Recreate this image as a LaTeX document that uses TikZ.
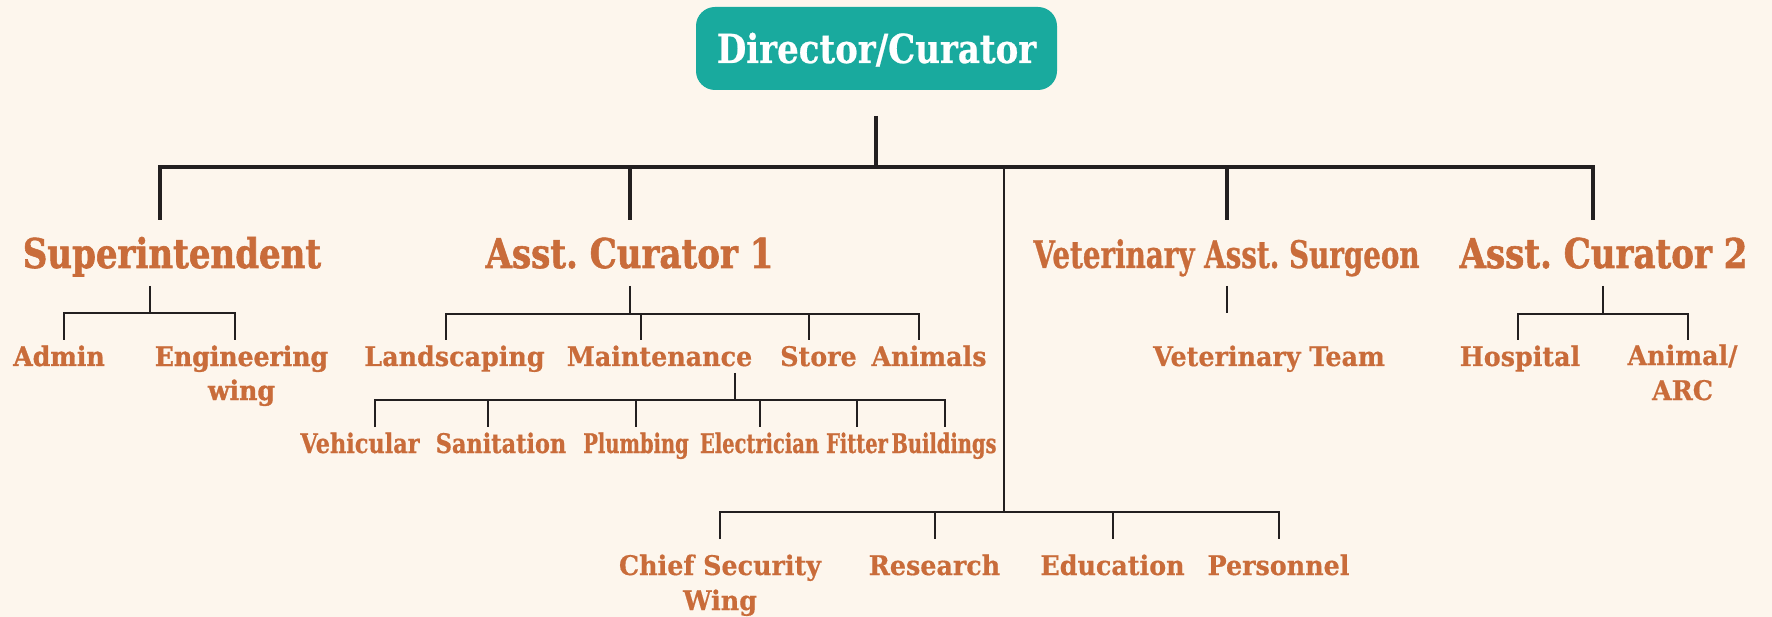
\documentclass[tikz,border=0pt]{standalone}
\usepackage{fontspec}
\setmainfont{DejaVu Serif}
\newfontfamily\wideLfont[FakeStretch=0.83,FakeBold=1.4]{DejaVu Serif}
\newfontfamily\wideSfont[FakeStretch=0.93,FakeBold=1.2]{DejaVu Serif}
\newfontfamily\condAfont[FakeStretch=0.94,FakeBold=0.5]{DejaVu Serif}
\newfontfamily\condBfont[FakeStretch=0.83,FakeBold=0.6]{DejaVu Serif}
\newfontfamily\condCfont[FakeStretch=0.72,FakeBold=0.7]{DejaVu Serif}
\newfontfamily\condVfont[FakeStretch=0.73,FakeBold=0.7]{DejaVu Serif}
\newfontfamily\condDfont[FakeStretch=0.85,FakeBold=0.6]{DejaVu Serif}
\definecolor{bgc}{HTML}{FDF6ED}
\definecolor{orgc}{HTML}{C96C3A}
\definecolor{tealc}{HTML}{19AA9E}
\definecolor{linec}{HTML}{231F20}
\frenchspacing
\tikzset{
  lbl/.style={text=orgc, anchor=base, inner sep=0pt, align=center},
  wideL/.style={lbl, font=\wideLfont\bfseries\fontsize{41}{48}\selectfont},
  wideS/.style={lbl, font=\wideSfont\bfseries\fontsize{27}{34}\selectfont},
  condL/.style={lbl, font=\condVfont\bfseries\fontsize{38}{44}\selectfont},
  condS/.style={lbl, font=\condAfont\bfseries\fontsize{27}{35}\selectfont},
  condM/.style={lbl, font=\condBfont\bfseries\fontsize{27}{34}\selectfont},
  condN/.style={lbl, font=\condCfont\bfseries\fontsize{27}{34}\selectfont},
  link/.style={draw=linec, line width=2.8pt},
  mainlink/.style={draw=linec, line width=3.3pt},
  topbox/.style={fill=tealc, text=white, rounded corners=19pt, minimum width=361pt,
    minimum height=83pt, inner sep=0pt, text height=29pt, text depth=0pt,
    font=\condDfont\bfseries\fontsize{40}{46}\selectfont}
}
\begin{document}
\begin{tikzpicture}[x=1pt,y=-1pt]
\fill[bgc] (0,0) rectangle (1772,617);
\useasboundingbox (0,0) rectangle (1772,617);
% nodes
\node[topbox] (dir) at (876.5,48.5) {Director/Curator};
\node[wideL] (sup) at (172,268) {Superintendent};
\node[wideL] (ac1) at (629.5,268) {Asst. Curator 1};
\node[condL] (vet) at (1226.5,268) {Veterinary Asst. Surgeon};
\node[wideL] (ac2) at (1603.5,268) {Asst. Curator 2};
\node[wideS] (adm) at (59,366) {Admin};
\node[wideS] (eng) at (241.5,400) {Engineering\\wing};
\node[condS] (lan) at (454.5,366) {Landscaping};
\node[condS] (mai) at (659.5,366) {Maintenance};
\node[condS] (sto) at (818.5,366) {Store};
\node[condS] (ani) at (929,366) {Animals};
\node[condS] (vtm) at (1269,366) {Veterinary Team};
\node[condS] (hos) at (1520,366) {Hospital};
\node[condS] (arc) at (1682.5,400) {Animal/\\ARC};
\node[condM] (veh) at (360,453) {Vehicular};
\node[condM] (san) at (501,453) {Sanitation};
\node[condN] (plu) at (636,453) {Plumbing};
\node[condN] (ele) at (759.5,453) {Electrician};
\node[condN] (fit) at (857,453) {Fitter};
\node[condN] (bui) at (944,453) {Buildings};
\node[condS] (chi) at (720,610) {Chief Security\\Wing};
\node[condS] (res) at (934.5,575) {Research};
\node[condS] (edu) at (1112.5,575) {Education};
\node[condS] (per) at (1278.5,575) {Personnel};
% junction coordinates
\coordinate (d0) at (876,116);
\coordinate (d1) at (876,167);
\coordinate (h0) at (160,167);
\coordinate (h1) at (1593,167);
\coordinate (cv) at (1004,167);
\coordinate (cb) at (1004,512);
% top level
\draw[mainlink] (d0) -- (d1);
\draw[mainlink] (160,220) -- (h0) -- (h1) -- (1593,220);
\draw[mainlink] (630,167) -- (630,220);
\draw[mainlink] (1227,167) -- (1227,220);
\draw[link] (cv) -- (cb);
\draw[link] (720,539) -- (720,512) -- (1279,512) -- (1279,539);
\draw[link] (935,512) -- (935,539);
\draw[link] (1113,512) -- (1113,539);
% superintendent
\draw[link] (150,286) -- (150,313);
\draw[link] (64,340) -- (64,313) -- (235,313) -- (235,340);
% asst curator 1
\draw[link] (630,286) -- (630,314);
\draw[link] (446,340) -- (446,314) -- (919,314) -- (919,340);
\draw[link] (641,314) -- (641,340);
\draw[link] (809,314) -- (809,340);
% maintenance
\draw[link] (735,373) -- (735,400);
\draw[link] (375,427) -- (375,400) -- (945,400) -- (945,427);
\foreach \xx in {488,636,760,857} \draw[link] (\xx,400) -- (\xx,427);
% vet
\draw[link] (1227,286) -- (1227,313);
% asst curator 2
\draw[link] (1603,286) -- (1603,314);
\draw[link] (1518,340) -- (1518,314) -- (1688,314) -- (1688,340);
\end{tikzpicture}
\end{document}
